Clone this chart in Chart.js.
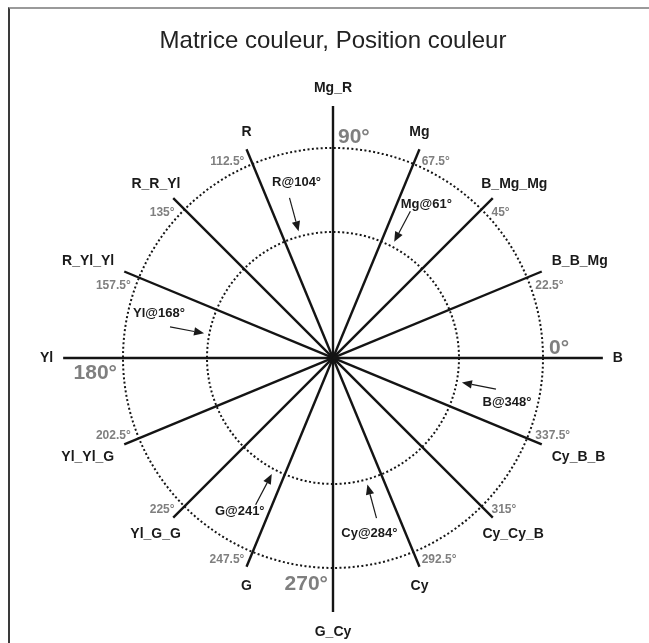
<!DOCTYPE html>
<html>
<head>
<meta charset="utf-8">
<script src="https://cdn.jsdelivr.net/npm/chart.js@4.4.1/dist/chart.umd.min.js"></script>
<style>
  html, body { margin: 0; padding: 0; background: #ffffff; }
  #wrap { position: relative; width: 649px; height: 643px; overflow: hidden; }
  #frame { position: absolute; left: 8px; top: 7px; right: -10px; bottom: -10px;
           border-top: 2px solid #9a9a9a; border-left: 2px solid #3a3a3a; }
  canvas { position: absolute; left: 0; top: 0; }
</style>
</head>
<body>
<div id="wrap"><div id="frame"></div><canvas id="chart" width="649" height="643"></canvas></div>
<script>
// ---------- data ----------
const directionNames  = ['B','B_B_Mg','B_Mg_Mg','Mg','Mg_R','R','R_R_Yl','R_Yl_Yl',
                         'Yl','Yl_Yl_G','Yl_G_G','G','G_Cy','Cy','Cy_Cy_B','Cy_B_B'];
const directionAngles = [0,22.5,45,67.5,90,112.5,135,157.5,180,202.5,225,247.5,270,292.5,315,337.5];
const spokeLengths    = [1.285,1.076,1.076,1.076,1.2,1.076,1.076,1.076,
                         1.285,1.076,1.076,1.076,1.21,1.076,1.076,1.076];
const angleLabels     = ['0°','22.5°','45°','67.5°','90°','112.5°','135°','157.5°',
                         '180°','202.5°','225°','247.5°','270°','292.5°','315°','337.5°'];
const circleRadii     = [0.6, 1.0];
const annotationNames  = ['R','Mg','Yl','B','G','Cy'];
const annotationAngles = [104, 61, 168, 348, 241, 284];
const titleText = 'Matrice couleur, Position couleur';

// ---------- helpers ----------
const FONT = '"Liberation Sans", Arial, Helvetica, sans-serif';
const rad = d => d * Math.PI / 180;
const clean = v => (Math.abs(v) < 1e-9 ? 0 : v);

const spokeDatasets = directionAngles.map((a, i) => ({
  label: directionNames[i],
  data: [{x: 0, y: 0},
         {x: spokeLengths[i] * Math.cos(rad(a)), y: spokeLengths[i] * Math.sin(rad(a))}],
  showLine: true,
  borderColor: '#141414',
  borderWidth: 2.4,
  pointRadius: 0,
  pointHoverRadius: 0,
  fill: false
}));

const decorPlugin = {
  id: 'polarDecor',
  beforeDatasetsDraw(chart) {
    const {ctx, scales: {x, y}} = chart;
    const cx = x.getPixelForValue(0), cy = y.getPixelForValue(0);
    const k = x.getPixelForValue(1) - cx;
    ctx.save();
    ctx.strokeStyle = '#161616';
    ctx.lineWidth = 2;
    ctx.setLineDash([2, 2.4]);
    circleRadii.forEach(r => {
      ctx.beginPath();
      ctx.arc(cx, cy, r * k, 0, Math.PI * 2);
      ctx.stroke();
    });
    ctx.restore();
  },
  afterDatasetsDraw(chart) {
    const {ctx, scales: {x, y}} = chart;
    const cx = x.getPixelForValue(0), cy = y.getPixelForValue(0);
    const k = x.getPixelForValue(1) - cx;
    const outer = circleRadii[circleRadii.length - 1] * k;
    ctx.save();
    ctx.textAlign = 'center';
    ctx.textBaseline = 'middle';

    // title, centred over the diagram
    ctx.font = '24px ' + FONT;
    ctx.fillStyle = '#222222';
    ctx.fillText(titleText, cx, 41);

    // spoke end labels
    ctx.font = 'bold 14px ' + FONT;
    ctx.fillStyle = '#1a1a1a';
    directionAngles.forEach((a, i) => {
      const ux = clean(Math.cos(rad(a))), uy = clean(Math.sin(rad(a)));
      const ex = cx + spokeLengths[i] * k * ux, ey = cy - spokeLengths[i] * k * uy;
      const hw = ctx.measureText(directionNames[i]).width / 2;
      const fromHoriz = Math.abs(Math.atan2(Math.abs(uy), Math.abs(ux))) * 180 / Math.PI;
      const f = Math.max(0, Math.min(1, (67.5 - fromHoriz) / 45));
      const dx = Math.sign(ux) * f * (hw + 10);
      const dy = uy > 0 ? -(6 + 12 * uy) : (uy < 0 ? (8 + 12 * Math.abs(uy)) : 0);
      ctx.fillText(directionNames[i], ex + dx, ey + dy);
    });

    // angle labels beside each spoke at the outer circle
    ctx.fillStyle = '#7f7f7f';
    directionAngles.forEach((a, i) => {
      const cardinal = a % 90 === 0;
      const size = cardinal ? 21 : 12;
      ctx.font = 'bold ' + size + 'px ' + FONT;
      const s2 = clean(Math.sin(rad(2 * a))), c2 = Math.cos(rad(2 * a));
      const sign = s2 !== 0 ? -Math.sign(s2) : Math.sign(c2);
      const ux = clean(Math.cos(rad(a))), uy = clean(Math.sin(rad(a)));
      const px = -sign * uy, py = sign * ux;          // perpendicular, towards the horizontal axis
      const hw = ctx.measureText(angleLabels[i]).width / 2;
      const hh = size * 0.36;
      const extU = hw * Math.abs(ux) + hh * Math.abs(uy);
      const extP = hw * Math.abs(px) + hh * Math.abs(py);
      const gr = cardinal ? 6 : 4, gp = cardinal ? 5 : 4;
      const mx = outer * ux + ux * (gr + extU) + px * (gp + extP);
      const my = outer * uy + uy * (gr + extU) + py * (gp + extP);
      ctx.fillText(angleLabels[i], cx + mx, cy - my + 3);
    });

    // annotations with arrows
    ctx.font = 'bold 13px ' + FONT;
    ctx.fillStyle = '#1a1a1a';
    ctx.strokeStyle = '#1a1a1a';
    annotationAngles.forEach((a, i) => {
      const t = rad(a + 1.2);
      const tailR = 0.79 * k, tipR = 0.625 * k;
      const tx = cx + tailR * Math.cos(t), ty = cy - tailR * Math.sin(t);
      const qx = cx + tipR * Math.cos(t), qy = cy - tipR * Math.sin(t);
      const vx = qx - tx, vy = qy - ty;
      const len = Math.hypot(vx, vy);
      const nx = vx / len, ny = vy / len;
      const head = 10, hwid = 4.2;
      const bx = qx - nx * head, by = qy - ny * head;
      ctx.lineWidth = 1.2;
      ctx.beginPath();
      ctx.moveTo(tx, ty);
      ctx.lineTo(bx, by);
      ctx.stroke();
      ctx.beginPath();
      ctx.moveTo(qx, qy);
      ctx.lineTo(bx - ny * hwid, by + nx * hwid);
      ctx.lineTo(bx + ny * hwid, by - nx * hwid);
      ctx.closePath();
      ctx.fill();
      const tt = rad(a - 2.3), textR = 0.855 * k;
      ctx.fillText(annotationNames[i] + '@' + a + '°',
                   cx + textR * Math.cos(tt), cy - textR * Math.sin(tt));
    });
    ctx.restore();
  }
};

new Chart(document.getElementById('chart'), {
  type: 'scatter',
  data: { datasets: spokeDatasets },
  options: {
    responsive: false,
    animation: false,
    devicePixelRatio: 1,
    layout: { padding: { left: 7.5, right: 11.5, top: 78.7, bottom: 10 } },
    scales: {
      x: { type: 'linear', min: -1.55, max: 1.45, display: false },
      y: { type: 'linear', min: -1.31, max: 1.33, display: false }
    },
    plugins: {
      legend: { display: false },
      tooltip: { enabled: false },
      title: { display: false }
    }
  },
  plugins: [decorPlugin]
});
</script>
</body>
</html>
